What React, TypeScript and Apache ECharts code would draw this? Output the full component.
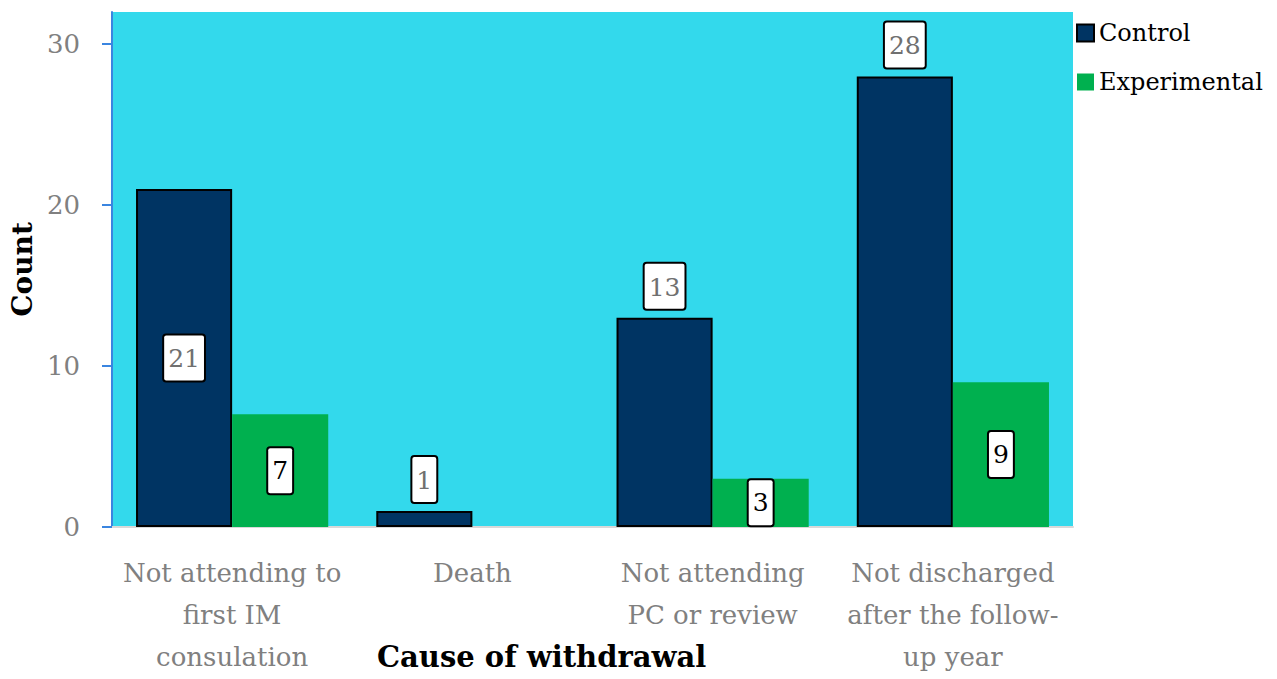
import React, { useEffect, useRef } from "react";
import * as echarts from "echarts";

const categories = [
  "Not attending to\nfirst IM\nconsulation",
  "Death",
  "Not attending\nPC or review",
  "Not discharged\nafter the follow-\nup year",
];
const controlValues = [21, 1, 13, 28];
const experimentalValues = [7, 0, 3, 9];
const controlLabelPos = ["inside", "top", "top", "top"];
const yTicks = [0, 10, 20, 30];

const FONT = "DejaVu Serif";

export default function App() {
  const ref = useRef<HTMLDivElement>(null);
  useEffect(() => {
    if (!ref.current) return;
    const chart = echarts.init(ref.current, null, { renderer: "svg" });
    const boxLabel = (color: string) => ({
      show: true,
      color,
      fontFamily: FONT,
      fontSize: 25,
      backgroundColor: "#ffffff",
      borderColor: "#000000",
      borderWidth: 2,
      borderRadius: 2,
      padding: [11, 4, 9, 4],
    });
    chart.setOption({
      animation: false,
      textStyle: { fontFamily: FONT },
      grid: {
        left: 110,
        right: 204,
        top: 12,
        bottom: 152,
        show: true,
        backgroundColor: "#33d9ec",
        borderWidth: 0,
      },
      legend: {
        orient: "vertical",
        left: 1071,
        top: 16,
        itemWidth: 17,
        itemHeight: 17,
        itemGap: 25,
        icon: "rect",
        textStyle: { fontFamily: FONT, fontSize: 24, color: "#000" },
        data: ["Control", "Experimental"],
      },
      xAxis: {
        type: "category",
        data: categories,
        axisLine: { show: true, lineStyle: { color: "#d9d9d9", width: 2 } },
        axisTick: { show: false },
        axisLabel: {
          color: "#808080",
          fontFamily: FONT,
          fontSize: 26,
          lineHeight: 42,
          margin: 25,
          interval: 0,
        },
      },
      yAxis: {
        type: "value",
        min: 0,
        max: 32,
        interval: 10,
        name: "Count",
        nameLocation: "middle",
        nameGap: 76,
        nameTextStyle: { fontFamily: FONT, fontSize: 28, fontWeight: "bold", color: "#000" },
        splitLine: { show: false },
        axisLine: { show: true, lineStyle: { color: "#3a85e0", width: 2 } },
        axisTick: { show: true, length: 10, lineStyle: { color: "#3a85e0", width: 2 }, customValues: yTicks },
        axisLabel: { color: "#808080", fontFamily: FONT, fontSize: 26, margin: 32, customValues: yTicks },
      },
      graphic: [
        {
          type: "text",
          left: 377,
          top: 642,
          style: {
            text: "Cause of withdrawal",
            fontFamily: FONT,
            fontSize: 29,
            fontWeight: "bold",
            fill: "#000",
          },
        },
      ],
      series: [
        {
          name: "Control",
          type: "bar",
          barGap: "0%",
          barCategoryGap: "20%",
          itemStyle: { color: "#003463", borderColor: "#000000", borderWidth: 2 },
          data: controlValues.map((v, i) => ({
            value: v,
            label: { position: controlLabelPos[i], distance: 9 },
          })),
          label: boxLabel("#707070"),
        },
        {
          name: "Experimental",
          type: "bar",
          itemStyle: { color: "#00b04f" },
          data: experimentalValues.map((v) => ({
            value: v,
            label: { show: v > 0 },
          })),
          label: { ...boxLabel("#000000"), position: "inside" },
        },
      ],
    });
    return () => chart.dispose();
  }, []);
  return (
    <div
      ref={ref}
      style={{ position: "fixed", left: 0, top: 0, width: 1277, height: 679, background: "#fff" }}
    />
  );
}
